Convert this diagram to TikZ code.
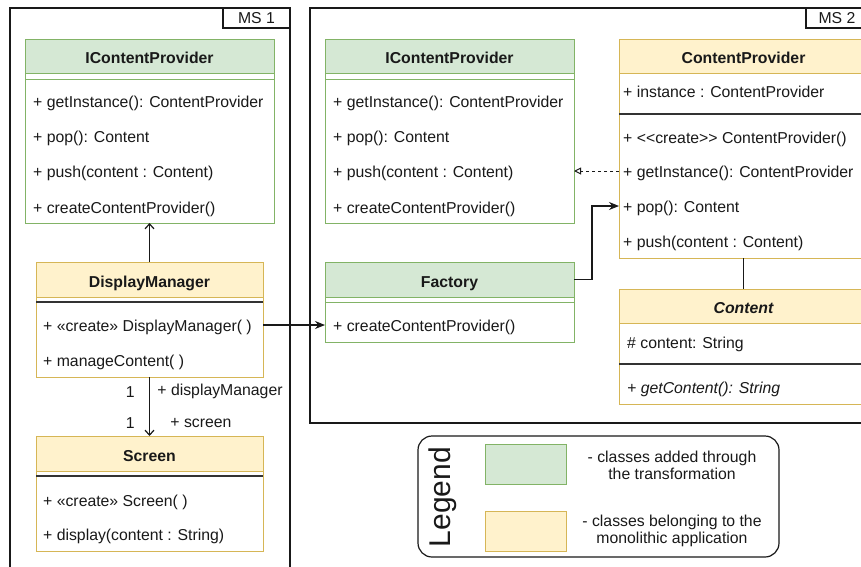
\documentclass[tikz,border=0pt]{standalone}
\usepackage{fontspec}
\setmainfont{Liberation Sans}
\usepackage{tikz}
\usetikzlibrary{arrows.meta, positioning, calc}
\definecolor{clsgreen}{RGB}{130,179,102}
\definecolor{hdrgreen}{RGB}{213,232,212}
\definecolor{clsyellow}{RGB}{214,182,86}
\definecolor{hdryellow}{RGB}{255,242,204}
\definecolor{mydark}{RGB}{25,25,25}
\definecolor{sepdark}{RGB}{51,51,51}
\newcommand{\umlfont}{\fontsize{15.8}{17}\selectfont}
\tikzset{
  grnhead/.style={rectangle, draw=clsgreen, fill=hdrgreen, minimum width=249pt,
    minimum height=34pt, anchor=north west, inner sep=0pt, outer sep=0pt,
    font=\umlfont\bfseries, text height=15pt, text depth=0pt, line width=1pt},
  ylwhead/.style={rectangle, draw=clsyellow, fill=hdryellow, minimum width=249pt,
    minimum height=34pt, anchor=north west, inner sep=0pt, outer sep=0pt,
    font=\umlfont\bfseries, text height=15pt, text depth=0pt, line width=1pt},
  grnbody/.style={rectangle, draw=clsgreen, fill=white, minimum width=249pt,
    anchor=north west, inner sep=0pt, outer sep=0pt, line width=1pt},
  ylwbody/.style={rectangle, draw=clsyellow, fill=white, minimum width=249pt,
    anchor=north west, inner sep=0pt, outer sep=0pt, line width=1pt},
  member/.style={anchor=west, inner sep=0pt, text height=13pt, text depth=1pt},
  grnline/.style={draw=clsgreen, line width=1pt},
  darkline/.style={draw=sepdark, line width=1.3pt},
  frame/.style={rectangle, draw=mydark, anchor=north west, inner sep=0pt,
    outer sep=0pt, line width=1.2pt},
  tagbox/.style={rectangle, draw=mydark, anchor=north east, inner sep=0pt,
    outer sep=0pt, minimum height=20pt, line width=1.2pt},
  arrow/.style={-{Stealth[length=10pt, width=8pt]}, line width=1.2pt, color=mydark},
  openarrow/.style={-{Straight Barb[length=5pt, width=9pt]}, line width=1.2pt, color=mydark},
  realize/.style={-{Triangle[open, length=7pt, width=7pt]}, line width=1pt,
    dash pattern=on 3pt off 3pt, color=mydark},
  line/.style={line width=1.2pt, color=mydark}
}
\begin{document}
\begin{tikzpicture}[x=1pt, y=-1pt, font=\umlfont, text=mydark]
  \useasboundingbox (0,0) rectangle (861,566);

  % Frames
  \node[frame, minimum width=280pt, minimum height=600pt] (ms1) at (10,8) {};
  \node[tagbox, minimum width=67pt] (ms1-tag) at (ms1.north east) {MS 1};
  \node[frame, minimum width=558pt, minimum height=415pt] (ms2) at (310,8) {};
  \node[tagbox, minimum width=62pt] (ms2-tag) at (ms2.north east) {MS 2};

  % MS 1: IContentProvider
  \node[grnhead] (icp1-head) at (25,39) {IContentProvider};
  \node[grnbody, minimum height=150pt] (icp1-body) at (25,73) {};
  \draw[grnline] ([yshift=-6pt]icp1-body.north west) -- ([yshift=-6pt]icp1-body.north east);
  \node[member] (icp1-m1) at (33,101) {+ getInstance(): ContentProvider};
  \node[member] (icp1-m2) at (33,136) {+ pop(): Content};
  \node[member] (icp1-m3) at (33,171) {+ push(content : Content)};
  \node[member] (icp1-m4) at (33,207) {+ createContentProvider()};

  % MS 1: DisplayManager
  \node[ylwhead, minimum width=227pt, minimum height=35pt] (dm-head) at (36,262) {DisplayManager};
  \node[ylwbody, minimum width=227pt, minimum height=80pt] (dm-body) at (36,297) {};
  \draw[darkline] ([yshift=-5pt]dm-body.north west) -- ([yshift=-5pt]dm-body.north east);
  \node[member] (dm-m1) at (43,325) {+ «create» DisplayManager( )};
  \node[member] (dm-m2) at (43,360) {+ manageContent( )};

  % MS 1: Screen
  \node[ylwhead, minimum width=227pt, minimum height=35pt] (scr-head) at (36,436) {Screen};
  \node[ylwbody, minimum width=227pt, minimum height=80pt] (scr-body) at (36,471) {};
  \draw[darkline] ([yshift=-5pt]scr-body.north west) -- ([yshift=-5pt]scr-body.north east);
  \node[member] (scr-m1) at (43,500) {+ «create» Screen( )};
  \node[member] (scr-m2) at (43,534) {+ display(content : String)};

  % MS 2: IContentProvider
  \node[grnhead] (icp2-head) at (325,39) {IContentProvider};
  \node[grnbody, minimum height=150pt] (icp2-body) at (325,73) {};
  \draw[grnline] ([yshift=-6pt]icp2-body.north west) -- ([yshift=-6pt]icp2-body.north east);
  \node[member] (icp2-m1) at (333,101) {+ getInstance(): ContentProvider};
  \node[member] (icp2-m2) at (333,136) {+ pop(): Content};
  \node[member] (icp2-m3) at (333,171) {+ push(content : Content)};
  \node[member] (icp2-m4) at (333,207) {+ createContentProvider()};

  % MS 2: Factory
  \node[grnhead, minimum height=35pt] (fac-head) at (325,262) {Factory};
  \node[grnbody, minimum height=45pt] (fac-body) at (325,297) {};
  \draw[grnline] ([yshift=-5pt]fac-body.north west) -- ([yshift=-5pt]fac-body.north east);
  \node[member] (fac-m1) at (333,325) {+ createContentProvider()};

  % MS 2: ContentProvider
  \node[ylwhead] (cp-head) at (619,39) {ContentProvider};
  \node[ylwbody, minimum height=185pt] (cp-body) at (619,73) {};
  \draw[darkline] ([yshift=-41pt]cp-body.north west) -- ([yshift=-41pt]cp-body.north east);
  \node[member] (cp-a1) at (623,91) {+ instance : ContentProvider};
  \node[member] (cp-m1) at (623,137) {+ <\kern0pt<create>\kern0pt> ContentProvider()};
  \node[member] (cp-m2) at (623,171) {+ getInstance(): ContentProvider};
  \node[member] (cp-m3) at (623,206) {+ pop(): Content};
  \node[member] (cp-m4) at (623,241) {+ push(content : Content)};

  % MS 2: Content
  \node[ylwhead, font=\umlfont\bfseries\itshape] (cnt-head) at (619,289) {Content};
  \node[ylwbody, minimum height=81pt] (cnt-body) at (619,323) {};
  \draw[darkline] ([yshift=-41pt]cnt-body.north west) -- ([yshift=-41pt]cnt-body.north east);
  \node[member] (cnt-a1) at (627,342) {\# content: String};
  \node[member, font=\umlfont\itshape] (cnt-m1) at (627,387) {+ getContent(): String};

  % Connectors
  \draw[openarrow] (dm-head.north) -- (icp1-body.south);
  \draw[openarrow] (dm-body.south) -- (scr-head.north)
    node[pos=0.25, left=11pt] {1}
    node[pos=0.25, right=4pt] {+ displayManager}
    node[pos=0.78, left=11pt] {1}
    node[pos=0.78, right=17pt] {+ screen};
  \draw[arrow] (dm-body.east |- dm-m1) -- (fac-body.west |- dm-m1);
  \draw[arrow] (fac-head.east) -- ++(18,0) |- (cp-body.west |- cp-m3);
  \draw[realize] (cp-body.west |- cp-m2) -- (icp2-body.east |- cp-m2);
  \draw[line] (cp-body.south) -- (cnt-head.north);

  % Legend
  \node[rectangle, draw=mydark, line width=1.2pt, rounded corners=14pt, anchor=north west,
    minimum width=361pt, minimum height=121pt, outer sep=0pt] (legend) at (418,436) {};
  \node[rotate=90, font=\fontsize{30}{30}\selectfont] (legend-lbl) at (443,497) {Legend};
  \node[rectangle, draw=clsgreen, fill=hdrgreen, line width=1pt, anchor=north west,
    minimum width=81pt, minimum height=40pt] (sw-green) at (485,444) {};
  \node[rectangle, draw=clsyellow, fill=hdryellow, line width=1pt, anchor=north west,
    minimum width=81pt, minimum height=40pt] (sw-yellow) at (485,511) {};
  \node[align=center] (tx-green) at (672,465) {- classes added through\\the transformation};
  \node[align=center] (tx-yellow) at (672,531) {- classes belonging to the\\monolithic application};
\end{tikzpicture}
\end{document}
